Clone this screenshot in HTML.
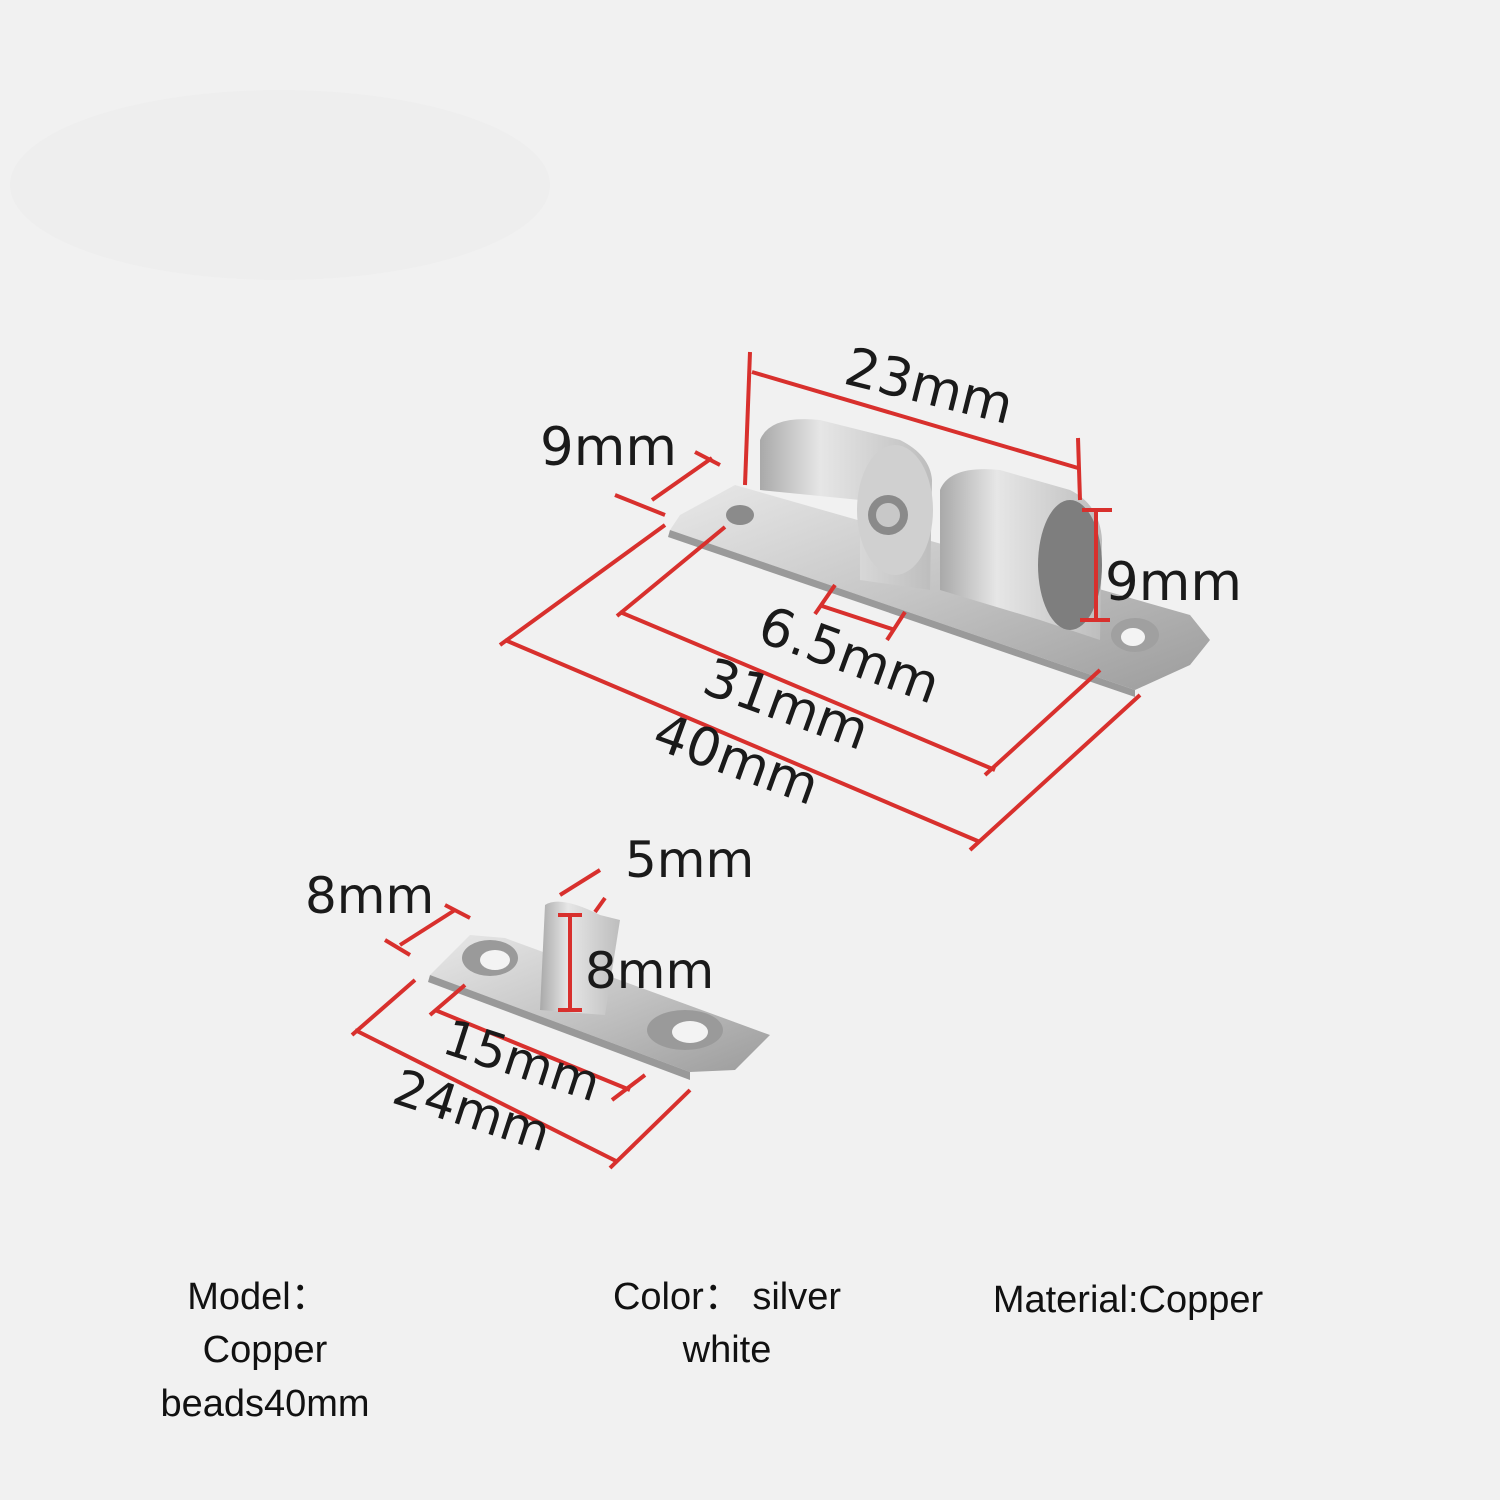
<!DOCTYPE html>
<html><head><style>
html,body{margin:0;padding:0;background:#f1f1f1;}
svg{display:block}
text{font-family:"DejaVu Sans","Liberation Sans",sans-serif;fill:#1a1a1a}
.b{font-family:"Liberation Sans","DejaVu Sans",sans-serif;font-size:38px;fill:#111}
</style></head><body>
<svg width="1500" height="1500" viewBox="0 0 1500 1500" xmlns="http://www.w3.org/2000/svg">
<defs>
<linearGradient id="m" x1="0" y1="0" x2="1" y2="1">
<stop offset="0" stop-color="#e8e8e8"/><stop offset="0.5" stop-color="#c4c4c4"/><stop offset="1" stop-color="#9c9c9c"/>
</linearGradient>
<linearGradient id="c" x1="0" y1="0" x2="1" y2="0">
<stop offset="0" stop-color="#a9a9a9"/><stop offset="0.35" stop-color="#e6e6e6"/><stop offset="1" stop-color="#bdbdbd"/>
</linearGradient>
</defs>
<rect width="1500" height="1500" fill="#f1f1f1"/>
<ellipse cx="280" cy="185" rx="270" ry="95" fill="#eeeeee"/>

<polygon points="680,515 735,485 1190,615 1210,640 1190,665 1135,690 670,530" fill="url(#m)"/>
<polygon points="670,530 1135,690 1135,697 668,537" fill="#9a9a9a"/>
<path d="M760,440 Q770,415 820,420 L900,440 Q930,455 932,480 L930,590 L860,580 L860,500 L760,490 Z" fill="url(#c)"/>
<ellipse cx="895" cy="510" rx="38" ry="65" fill="#d0d0d0"/>
<circle cx="888" cy="515" r="20" fill="#8a8a8a"/><circle cx="888" cy="515" r="12" fill="#c8c8c8"/>
<path d="M940,490 Q950,465 1000,470 L1070,490 Q1100,505 1102,540 L1100,640 L1040,620 L940,590 Z" fill="url(#c)"/>
<ellipse cx="1070" cy="565" rx="32" ry="65" fill="#7e7e7e"/>
<ellipse cx="740" cy="515" rx="14" ry="10" fill="#8b8b8b"/>
<ellipse cx="1135" cy="635" rx="24" ry="17" fill="#a0a0a0"/><ellipse cx="1133" cy="637" rx="12" ry="9" fill="#f3f3f3"/>

<g stroke="#d8302d" stroke-width="4" fill="none">
<line x1="505" y1="640" x2="980" y2="842"/>
<line x1="500" y1="645" x2="665" y2="525"/>
<line x1="970" y1="850" x2="1140" y2="695"/>
<line x1="620" y1="612" x2="995" y2="770"/>
<line x1="617" y1="616" x2="725" y2="527"/>
<line x1="985" y1="775" x2="1100" y2="670"/>
<line x1="822" y1="606" x2="895" y2="630"/>
<line x1="815" y1="614" x2="835" y2="585"/>
<line x1="887" y1="640" x2="905" y2="612"/>
<line x1="752" y1="372" x2="1078" y2="468"/>
<line x1="750" y1="352" x2="745" y2="485"/>
<line x1="1078" y1="438" x2="1080" y2="500"/>
<line x1="652" y1="500" x2="712" y2="458"/>
<line x1="615" y1="495" x2="665" y2="515"/>
<line x1="695" y1="452" x2="720" y2="465"/>
<line x1="1096" y1="510" x2="1096" y2="620"/>
<line x1="1082" y1="510" x2="1112" y2="510"/>
<line x1="1080" y1="620" x2="1110" y2="620"/>
</g>
<text font-size="53" transform="translate(842,383) rotate(14)">23mm</text>
<text font-size="53" x="540" y="465">9mm</text>
<text font-size="53" x="1105" y="600">9mm</text>
<text font-size="53" transform="translate(755,640) rotate(20)">6.5mm</text>
<text font-size="53" transform="translate(700,692) rotate(20)">31mm</text>
<text font-size="53" transform="translate(650,747) rotate(20)">40mm</text>

<polygon points="430,975 470,935 505,938 770,1035 735,1070 690,1072 430,975" fill="url(#m)"/>
<polygon points="430,975 690,1072 690,1080 428,982" fill="#999"/>
<path d="M540,1010 L545,905 Q560,895 600,915 L620,920 L605,1015 Z" fill="url(#c)"/>
<ellipse cx="490" cy="958" rx="28" ry="18" fill="#9a9a9a"/><ellipse cx="495" cy="960" rx="15" ry="10" fill="#f3f3f3"/>
<ellipse cx="685" cy="1030" rx="38" ry="20" fill="#9a9a9a"/><ellipse cx="690" cy="1032" rx="18" ry="11" fill="#f3f3f3"/>
<g stroke="#d8302d" stroke-width="4" fill="none">
<line x1="355" y1="1030" x2="618" y2="1162"/>
<line x1="352" y1="1035" x2="415" y2="980"/>
<line x1="610" y1="1168" x2="690" y2="1090"/>
<line x1="435" y1="1010" x2="630" y2="1090"/>
<line x1="430" y1="1015" x2="465" y2="985"/>
<line x1="612" y1="1100" x2="645" y2="1075"/>
<line x1="400" y1="945" x2="455" y2="910"/>
<line x1="385" y1="940" x2="410" y2="955"/>
<line x1="445" y1="905" x2="470" y2="918"/>
<line x1="570" y1="915" x2="570" y2="1010"/>
<line x1="558" y1="915" x2="582" y2="915"/>
<line x1="558" y1="1010" x2="582" y2="1010"/>
<line x1="560" y1="895" x2="600" y2="870"/>
<line x1="595" y1="912" x2="605" y2="898"/>
</g>
<text font-size="50" x="305" y="913">8mm</text>
<text font-size="50" x="625" y="877">5mm</text>
<text font-size="50" x="585" y="988">8mm</text>
<text font-size="50" transform="translate(440,1052) rotate(18)">15mm</text>
<text font-size="50" transform="translate(390,1102) rotate(18)">24mm</text>

<text class="b" x="258" y="1309" text-anchor="middle">Model：</text>
<text class="b" x="265" y="1362" text-anchor="middle">Copper</text>
<text class="b" x="265" y="1416" text-anchor="middle">beads40mm</text>
<text class="b" x="727" y="1309" text-anchor="middle">Color： silver</text>
<text class="b" x="727" y="1362" text-anchor="middle">white</text>
<text class="b" x="1128" y="1312" text-anchor="middle">Material:Copper</text>
</svg>
</body></html>
